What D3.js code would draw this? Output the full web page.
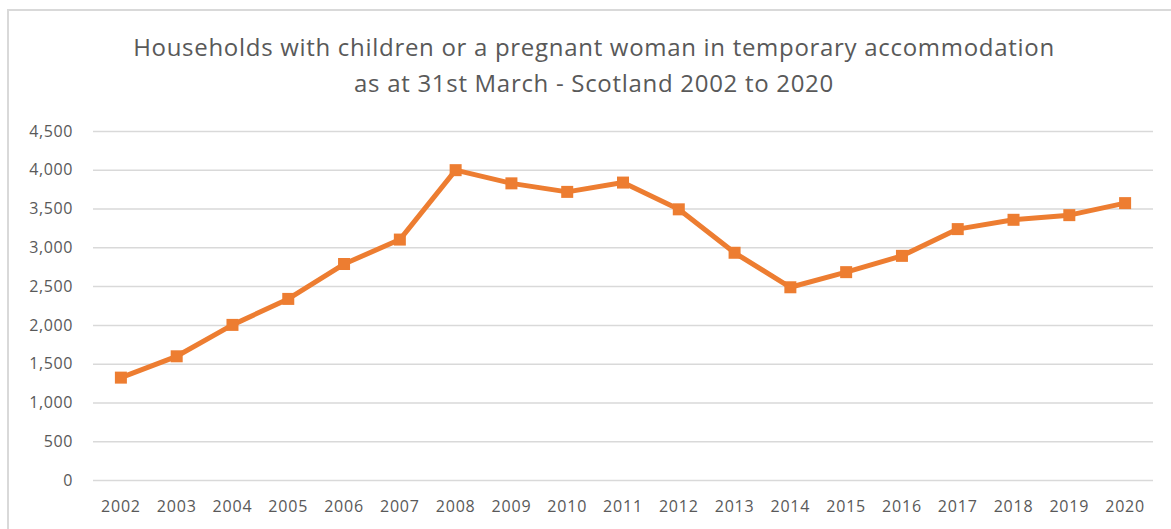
<!DOCTYPE html>
<html>
<head>
<meta charset="utf-8">
<script src="https://cdn.jsdelivr.net/npm/d3@7"></script>
<style>
  body { margin: 0; background: #fff; }
  text { font-family: "Open Sans", "Noto Sans", sans-serif; fill: #595959; }
</style>
</head>
<body>
<div id="chart"></div>
<script>
const years = ['2002','2003','2004','2005','2006','2007','2008','2009','2010','2011','2012','2013','2014','2015','2016','2017','2018','2019','2020'];
const households = [1320, 1595, 2000, 2335, 2785, 3100, 3995, 3825, 3715, 3835, 3490, 2930, 2485, 2680, 2890, 3235, 3355, 3415, 3570];
const yTicks = [0, 500, 1000, 1500, 2000, 2500, 3000, 3500, 4000, 4500];
const titleLines = ['Households with children or a pregnant woman in temporary accommodation', 'as at 31st March - Scotland 2002 to 2020'];

const W = 1171, H = 529;
const margin = {top: 131, right: 18, bottom: 49, left: 93};
const width = W - margin.left - margin.right,
      height = H - margin.top - margin.bottom;

const svg = d3.select('#chart').append('svg')
    .attr('width', W)
    .attr('height', H);

// chart frame
svg.append('rect')
    .attr('x', 8).attr('y', 10)
    .attr('width', W + 10).attr('height', H + 10)
    .attr('fill', 'none')
    .attr('stroke', '#d9d9d9')
    .attr('stroke-width', 2);

// title
const title = svg.append('text')
    .attr('text-anchor', 'middle')
    .style('font-size', '24px')
    .style('letter-spacing', '0.7px');
title.selectAll('tspan')
    .data(titleLines)
    .join('tspan')
    .attr('x', 594)
    .attr('y', (d, i) => 56 + i * 36)
    .text(d => d);

const g = svg.append('g')
    .attr('transform', `translate(${margin.left}, ${margin.top})`);

const x = d3.scaleBand()
    .domain(years)
    .range([0, width]);

const y = d3.scaleLinear()
    .domain([0, 4500])
    .range([height, 0]);

// gridlines + y labels
const yAxis = g.append('g')
    .call(d3.axisLeft(y).tickValues(yTicks).tickSize(-width).tickPadding(20).tickFormat(d3.format(',')));
yAxis.select('.domain').remove();
yAxis.selectAll('line').attr('stroke', '#d9d9d9').attr('stroke-width', 1.5);
yAxis.selectAll('text').style('font-size', '16px').style('letter-spacing', '0.6px').attr('fill', '#595959');

// x labels
const xAxis = g.append('g')
    .attr('transform', `translate(0, ${height})`)
    .call(d3.axisBottom(x).tickSize(0).tickPadding(21));
xAxis.select('.domain').remove();
xAxis.selectAll('text').style('font-size', '16px').style('letter-spacing', '0.8px').attr('fill', '#595959');

// line
const line = d3.line()
    .x((d, i) => x(years[i]) + x.bandwidth() / 2)
    .y(d => y(d));

g.append('path')
    .datum(households)
    .attr('fill', 'none')
    .attr('stroke', '#ed7d31')
    .attr('stroke-width', 5)
    .attr('stroke-linejoin', 'round')
    .attr('d', line);

// markers
const ms = 12;
g.append('g')
    .selectAll('rect')
    .data(households)
    .join('rect')
    .attr('x', (d, i) => x(years[i]) + x.bandwidth() / 2 - ms / 2)
    .attr('y', d => y(d) - ms / 2)
    .attr('width', ms)
    .attr('height', ms)
    .attr('fill', '#ed7d31');
</script>
</body>
</html>
